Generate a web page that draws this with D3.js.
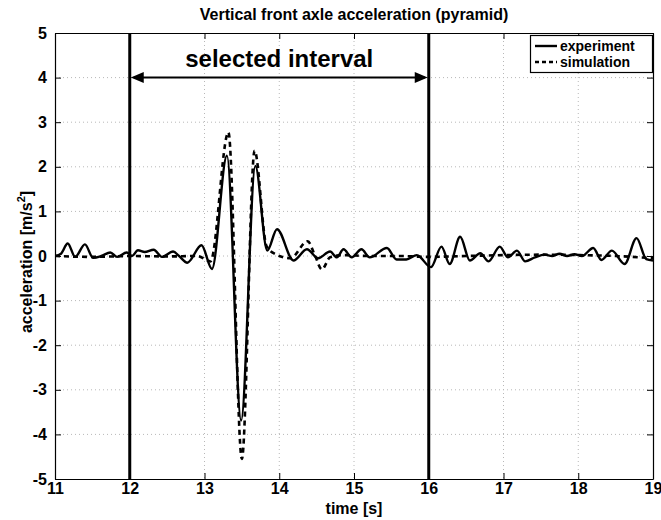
<!DOCTYPE html>
<html>
<head>
<meta charset="utf-8">
<script src="https://cdn.jsdelivr.net/npm/d3@7"></script>
<style>
  html, body { margin: 0; padding: 0; background: #fff; }
  svg text { font-family: "Liberation Sans", Arial, Helvetica, sans-serif; font-weight: bold; fill: #000; }
</style>
</head>
<body>
<svg id="chart" width="661" height="520"></svg>
<script>
// Measured vertical front axle acceleration, time [s] and value [m/s^2]
const expTime = [11.00, 11.08, 11.17, 11.27, 11.40, 11.51, 11.62, 11.74, 11.83, 11.96, 12.03, 12.11, 12.20, 12.32, 12.43, 12.58, 12.66, 12.77, 12.96, 13.10, 13.30, 13.49, 13.68, 13.84, 13.97, 14.19, 14.37, 14.52, 14.68, 14.77, 14.86, 14.97, 15.10, 15.21, 15.44, 15.57, 15.70, 15.84, 16.03, 16.17, 16.28, 16.42, 16.55, 16.69, 16.80, 16.95, 17.06, 17.18, 17.29, 17.42, 17.55, 17.65, 17.75, 17.85, 17.95, 18.05, 18.20, 18.31, 18.45, 18.62, 18.78, 18.91, 19.00];
const expValue = [0.00, 0.05, 0.28, -0.02, 0.26, -0.04, 0.00, 0.08, -0.02, 0.08, 0.00, 0.13, 0.09, 0.14, -0.02, 0.10, 0.00, -0.15, 0.24, -0.29, 2.25, -3.69, 2.02, 0.12, 0.60, -0.10, 0.15, -0.05, 0.10, -0.03, 0.15, -0.03, 0.15, -0.03, 0.18, -0.08, -0.08, 0.02, -0.25, 0.21, -0.18, 0.43, -0.10, 0.06, -0.12, 0.21, -0.03, 0.12, -0.12, -0.03, 0.03, 0.00, 0.05, 0.00, 0.04, 0.00, 0.18, -0.09, 0.12, -0.18, 0.40, -0.07, -0.10];

// Simulated acceleration
const simTime = [11.00, 11.50, 12.00, 12.50, 12.90, 13.08, 13.32, 13.50, 13.67, 13.83, 13.95, 14.15, 14.38, 14.48, 14.57, 14.68, 14.85, 15.20, 15.60, 16.00, 16.50, 17.00, 17.50, 18.00, 18.50, 19.00];
const simValue = [0.00, -0.02, 0.00, -0.01, 0.00, -0.12, 2.77, -4.55, 2.36, 0.22, 0.04, -0.05, 0.33, 0.00, -0.30, -0.03, 0.02, 0.00, 0.00, -0.02, 0.00, 0.02, 0.03, 0.02, 0.00, -0.05];

// Selected interval bounds and where its arrow sits
const intervalBounds = [12, 16];
const intervalArrowLevel = 4;

// Axis ticks
const xTicks = [11, 12, 13, 14, 15, 16, 17, 18, 19];
const yTicks = [-5, -4, -3, -2, -1, 0, 1, 2, 3, 4, 5];

const seriesNames = ["experiment", "simulation"];

const svg = d3.select("#chart");
const plotL = 55, plotR = 653, plotT = 33, plotB = 479;

const x = d3.scaleLinear().domain([11, 19]).range([plotL, plotR]);
const y = d3.scaleLinear().domain([-5, 5]).range([plotB, plotT]);

// dotted grid
const grid = svg.append("g").attr("stroke", "#b8b8b8").attr("stroke-width", 1).attr("stroke-dasharray", "1,3");
grid.selectAll("line.gx").data(xTicks.slice(1, -1)).join("line").attr("class", "gx")
  .attr("x1", d => x(d)).attr("x2", d => x(d)).attr("y1", plotT).attr("y2", plotB);
grid.selectAll("line.gy").data(yTicks.slice(1, -1)).join("line").attr("class", "gy")
  .attr("x1", plotL).attr("x2", plotR).attr("y1", d => y(d)).attr("y2", d => y(d));

// axes with inward ticks on all four sides
const tickLen = 6;
const fmt = d => String(d);
const gx = svg.append("g").attr("transform", `translate(0,${plotB})`)
  .call(d3.axisBottom(x).tickValues(xTicks).tickFormat(fmt).tickSizeInner(-tickLen).tickSizeOuter(0).tickPadding(4));
const gy = svg.append("g").attr("transform", `translate(${plotL},0)`)
  .call(d3.axisLeft(y).tickValues(yTicks).tickFormat(fmt).tickSizeInner(-tickLen).tickSizeOuter(0).tickPadding(8));
const gt = svg.append("g").attr("transform", `translate(0,${plotT})`)
  .call(d3.axisTop(x).tickValues(xTicks).tickFormat("").tickSizeInner(-tickLen).tickSizeOuter(0));
const gr = svg.append("g").attr("transform", `translate(${plotR},0)`)
  .call(d3.axisRight(y).tickValues(yTicks).tickFormat("").tickSizeInner(-tickLen).tickSizeOuter(0));
[gx, gy, gt, gr].forEach(g => {
  g.selectAll("path.domain").attr("stroke", "#000").attr("stroke-width", 1.2);
  g.selectAll(".tick line").attr("stroke", "#000").attr("stroke-width", 1);
  g.selectAll(".tick text").attr("font-size", 16).attr("fill", "#000")
    .style("font-family", '"Liberation Sans", Arial, sans-serif').style("font-weight", "bold");
});

// curves
const line = d3.line().x(d => x(d[0])).y(d => y(d[1])).curve(d3.curveMonotoneX);
const expData = d3.zip(expTime, expValue);
const simData = d3.zip(simTime, simValue);

svg.append("defs").append("clipPath").attr("id", "plotClip")
  .append("rect").attr("x", plotL).attr("y", plotT).attr("width", plotR - plotL).attr("height", plotB - plotT);
const plot = svg.append("g").attr("clip-path", "url(#plotClip)");

plot.append("path").datum(expData).attr("d", line)
  .attr("fill", "none").attr("stroke", "#000").attr("stroke-width", 2.4).attr("stroke-linejoin", "round");
plot.append("path").datum(simData).attr("d", line)
  .attr("fill", "none").attr("stroke", "#000").attr("stroke-width", 2.6).attr("stroke-dasharray", "5,4");

// interval bounds
svg.selectAll("line.bound").data(intervalBounds).join("line").attr("class", "bound")
  .attr("x1", d => x(d)).attr("x2", d => x(d)).attr("y1", plotT).attr("y2", plotB)
  .attr("stroke", "#000").attr("stroke-width", 3);

// double-headed arrow
const ay = y(intervalArrowLevel);
const ax0 = x(intervalBounds[0]), ax1 = x(intervalBounds[1]);
const headL = 13, headW = 5.5;
svg.append("line").attr("x1", ax0 + 4).attr("x2", ax1 - 4).attr("y1", ay).attr("y2", ay)
  .attr("stroke", "#000").attr("stroke-width", 2);
svg.append("path")
  .attr("d", `M${ax0 + 1},${ay} L${ax0 + 1 + headL},${ay - headW} L${ax0 + 1 + headL},${ay + headW} Z`)
  .attr("fill", "#000");
svg.append("path")
  .attr("d", `M${ax1 - 1},${ay} L${ax1 - 1 - headL},${ay - headW} L${ax1 - 1 - headL},${ay + headW} Z`)
  .attr("fill", "#000");
svg.append("text").attr("x", (ax0 + ax1) / 2).attr("y", 67).attr("text-anchor", "middle")
  .attr("font-size", 24).text("selected interval");

// title and axis labels
svg.append("text").attr("x", (plotL + plotR) / 2).attr("y", 20).attr("text-anchor", "middle")
  .attr("font-size", 16).text("Vertical front axle acceleration (pyramid)");
svg.append("text").attr("x", (plotL + plotR) / 2).attr("y", 514).attr("text-anchor", "middle")
  .attr("font-size", 16).text("time [s]");
const yl = svg.append("text").attr("transform", `translate(32,262) rotate(-90)`)
  .attr("text-anchor", "middle").attr("font-size", 16);
yl.append("tspan").text("acceleration [m/s");
yl.append("tspan").attr("font-size", 11).attr("dy", -7).text("2");
yl.append("tspan").attr("dy", 7).text("]");

// legend
const lg = svg.append("g");
lg.append("rect").attr("x", 530.5).attr("y", 35.5).attr("width", 122).attr("height", 37)
  .attr("fill", "#fff").attr("stroke", "#000").attr("stroke-width", 1.2);
const legRows = lg.selectAll("g.row").data(seriesNames).join("g").attr("class", "row")
  .attr("transform", (d, i) => `translate(0,${46 + i * 16})`);
legRows.append("line").attr("x1", 535).attr("x2", 557).attr("y1", 0).attr("y2", 0)
  .attr("stroke", "#000").attr("stroke-width", 2.4)
  .attr("stroke-dasharray", (d, i) => i === 1 ? "4,3" : null);
legRows.append("text").attr("x", 560).attr("y", 5).attr("font-size", 14).text(d => d);
</script>
</body>
</html>
